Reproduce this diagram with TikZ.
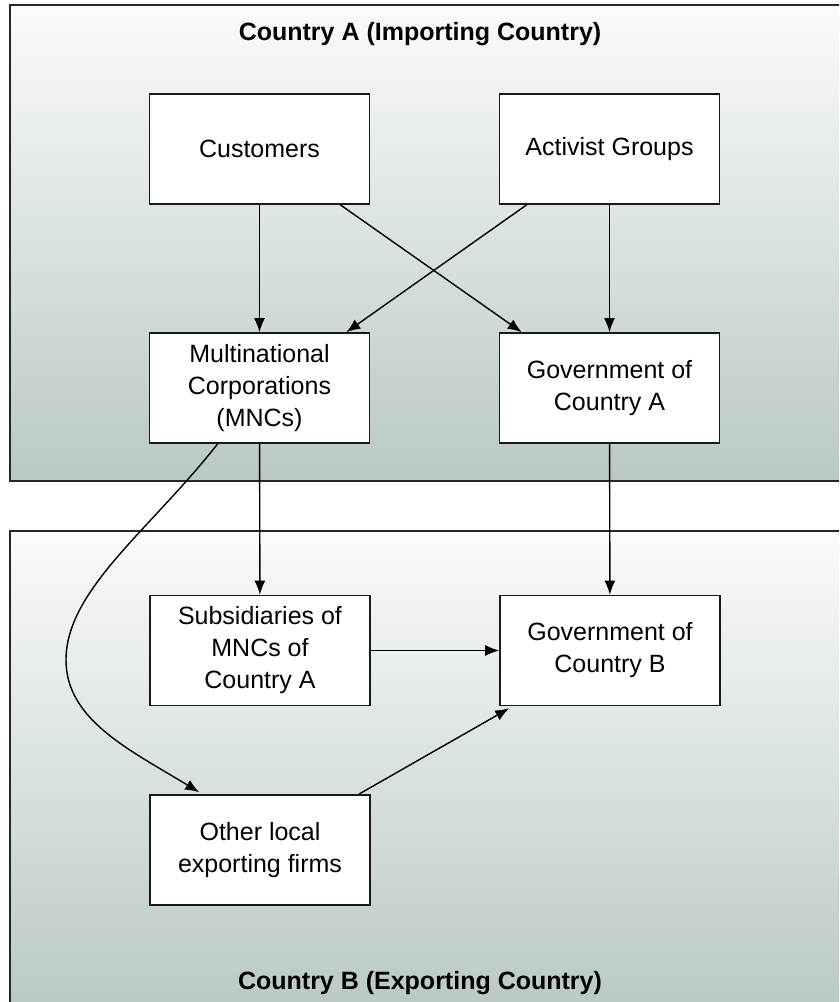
\documentclass[tikz,border=0pt]{standalone}
\usepackage{fontspec}
\setmainfont{Liberation Sans}
\usetikzlibrary{arrows.meta,calc}
\definecolor{panelTop}{RGB}{250,251,251}
\definecolor{panelBot}{RGB}{185,200,199}
\begin{document}
\begin{tikzpicture}[x=1pt,y=-1pt,
  box/.style={draw=black!90, line width=1.6pt, fill=white, minimum width=220pt, minimum height=110pt, align=center, inner sep=0pt, font=\fontsize{25}{32}\selectfont},
  arr/.style={-{Latex[length=14pt,width=11pt]}, line width=1.4pt},
  panel/.style={draw=black!85, line width=2pt, top color=panelTop, bottom color=panelBot},
  title/.style={font=\bfseries\fontsize{25}{30}\selectfont}]
\clip (0,0) rectangle (839,1002);
\path[panel] (10,5) rectangle (850,481);
\path[panel] (10,531) rectangle (850,1012);
\node[title] (titleA) at (420,34) {Country A (Importing Country)};
\node[title] (titleB) at (420,983) {Country B (Exporting Country)};
\node[box] (cust) at (259.5,149) {Customers};
\node[box] (act) at (609.5,149) {Activist Groups};
\node[box] (mnc) at (259.5,388) {Multinational\\Corporations\\(MNCs)};
\node[box] (govA) at (609.5,388) {Government of\\Country A};
\node[box] (sub) at (260,650.5) {Subsidiaries of\\MNCs of\\Country A};
\node[box] (govB) at (610,650.5) {Government of\\Country B};
\node[box] (oth) at (260,850) {Other local\\exporting firms};
\draw[arr] (cust) -- (mnc);
\draw[arr] (act) -- (govA);
\draw[arr] (mnc) -- (sub);
\draw[arr] (govA) -- (govB);
\draw[arr] (sub) -- (govB);
\draw[arr] ($(cust.south east)+(-30,0)$) -- ($(govA.north west)+(23,0)$);
\draw[arr] ($(act.south west)+(28,0)$) -- ($(mnc.north east)+(-24,0)$);
\draw[arr] ($(oth.north east)+(-12,0)$) -- ($(govB.south west)+(10,2)$);
\coordinate (bend) at (66,660);
\draw[arr] ($(mnc.south west)+(69,0)$) .. controls (150,530) and (66,590) .. (bend) .. controls (66,720) and (130,750) .. ($(oth.north west)+(50,-2)$);
\end{tikzpicture}
\end{document}
